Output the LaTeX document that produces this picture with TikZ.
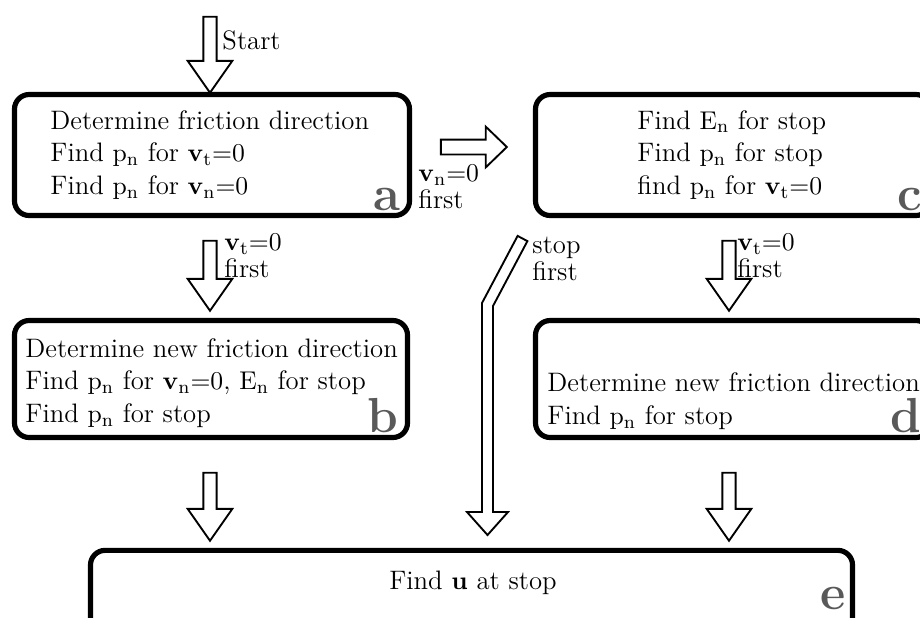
\documentclass[tikz,border=0pt]{standalone}
\usepackage{amsmath, amssymb}
\usepackage{tikz}
\usetikzlibrary{shapes.arrows}

\begin{document}
\begin{tikzpicture}[x=0.015cm, y=-0.015cm,
  box/.style={draw, line width=2.2pt, rounded corners=0.22cm, inner sep=0pt},
  txt/.style={inner sep=0pt, align=left, anchor=west, font=\fontsize{11.4}{14}\selectfont},
  tag/.style={inner sep=0pt, anchor=south east, text=black!65, font=\fontsize{21}{21}\selectfont\bfseries},
  note/.style={inner sep=0pt, align=left, anchor=west, font=\fontsize{11.4}{11.6}\selectfont},
  downarrow/.style={draw, thick, fill=white, single arrow, inner xsep=0pt, inner ysep=0.085cm,
    single arrow head extend=0.235cm, single arrow tip angle=70,
    minimum height=#1, rotate=-90},
  rightarrow/.style={draw, thick, fill=white, single arrow, inner xsep=0pt, inner ysep=0.0975cm,
    single arrow head extend=0.195cm, single arrow tip angle=88, minimum height=#1}
]
  \clip (0,0) rectangle (920,617);

  % boxes
  \node[box, minimum width=5.925cm, minimum height=1.815cm] (a) at (212,155) {};
  \node[box, minimum width=5.925cm, minimum height=1.815cm] (c) at (733,155) {};
  \node[box, minimum width=5.895cm, minimum height=1.755cm] (b) at (211,379) {};
  \node[box, minimum width=5.925cm, minimum height=1.755cm] (d) at (733,379) {};
  \node[box, minimum width=11.43cm, minimum height=1.49cm] (e) at (471.5,600) {};

  % box texts
  \node[txt] (ta) at (50,155) {Determine friction direction\\
    Find $\mathrm{p}_\mathrm{n}$ for $\mathbf{v}_\mathrm{t}{=}0$\\
    Find $\mathrm{p}_\mathrm{n}$ for $\mathbf{v}_\mathrm{n}{=}0$};
  \node[txt] (tc) at (637,155) {Find $\mathrm{E}_\mathrm{n}$ for stop\\
    Find $\mathrm{p}_\mathrm{n}$ for stop\\
    find $\mathrm{p}_\mathrm{n}$ for $\mathbf{v}_\mathrm{t}{=}0$};
  \node[txt] (tb) at (25,383) {Determine new friction direction\\
    Find $\mathrm{p}_\mathrm{n}$ for $\mathbf{v}_\mathrm{n}{=}0$, $\mathrm{E}_\mathrm{n}$ for stop\\
    Find $\mathrm{p}_\mathrm{n}$ for stop};
  \node[txt] (td) at (547,401) {Determine new friction direction\\
    Find $\mathrm{p}_\mathrm{n}$ for stop};
  \node[txt, anchor=center] (te) at (473,583) {Find $\mathbf{u}$ at stop};

  % corner letters
  \node[tag] (la) at ([shift={(-11,-7)}]a.south east) {a};
  \node[tag] (lb) at ([shift={(-11,-7)}]b.south east) {b};
  \node[tag] (lc) at ([shift={(-11,-7)}]c.south east) {c};
  \node[tag] (ld) at ([shift={(-11,-7)}]d.south east) {d};
  \node[tag] (le) at (846,610) {e};

  % block arrows
  \node[downarrow=1.14cm] (start) at (210,50) {};
  \node[downarrow=1.05cm] (ab) at (210,271) {};
  \node[downarrow=1.02cm] (be) at (210,502) {};
  \node[downarrow=1.05cm] (cd) at (729,271) {};
  \node[downarrow=1.02cm] (de) at (729,502) {};
  \node[rightarrow=0.99cm] (ac) at (470,147) {};
  \draw[thick, fill=white] (517.6,235.9) -- (527.4,241.1) -- (493,306) -- (493,512)
    -- (508,512) -- (487.5,535) -- (467,512) -- (482,512) -- (482,303) -- cycle;

  % arrow labels
  \node[note] (nstart) at (222,40) {Start};
  \node[note] (nab) at (224,256) {$\mathbf{v}_\mathrm{t}{=}0$\\first};
  \node[note] (ncd) at (737,256) {$\mathbf{v}_\mathrm{t}{=}0$\\first};
  \node[note] (nac) at (418,187) {$\mathbf{v}_\mathrm{n}{=}0$\\first};
  \node[note] (nce) at (532,259) {stop\\first};
\end{tikzpicture}
\end{document}
